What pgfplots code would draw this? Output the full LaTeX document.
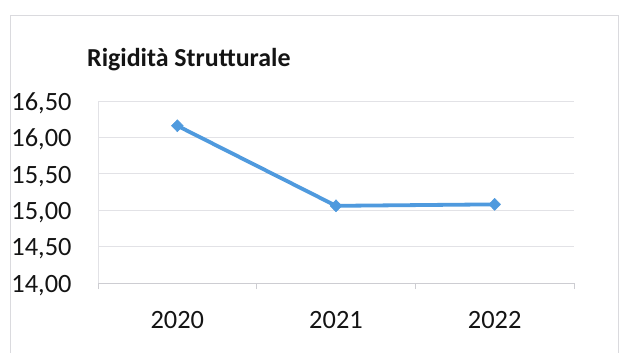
\documentclass[border=0pt]{standalone}
\usepackage{fontspec}
\setmainfont{Carlito}
\usepackage{pgfplots}
\pgfplotsset{compat=1.18}
\definecolor{serie}{RGB}{79,154,222}
\definecolor{griglia}{RGB}{226,226,230}
\definecolor{asse}{RGB}{205,205,210}
\definecolor{cornice}{RGB}{218,218,222}
\definecolor{testo}{RGB}{20,20,20}
\begin{document}
\begin{tikzpicture}
\useasboundingbox (0bp,0bp) rectangle (630bp,353bp);
\fill[white] (0bp,0bp) rectangle (630bp,353bp);
% chart frame
\draw[cornice, line width=1bp] (10bp,-5bp) -- (10bp,337bp) -- (618bp,337bp) -- (618bp,-5bp);
% chart title
\node[anchor=base west, inner sep=0pt, font=\fontsize{26}{30}\selectfont\bfseries, text=testo] at (87bp,286bp) {Rigidità Strutturale};
\begin{axis}[
  at={(98bp,70bp)}, anchor=south west,
  scale only axis, width=476bp, height=182bp,
  xmin=-0.5, xmax=2.5, ymin=14, ymax=16.5,
  xtick={0,1,2}, xticklabels={2020,2021,2022},
  minor xtick={-0.5,0.5,1.5,2.5},
  ytick={14,14.5,...,16.5},
  axis x line*=bottom, axis y line*=left,
  x axis line style={-, draw=asse, line width=1bp},
  y axis line style={-, draw=griglia, line width=0.8bp},
  tick align=outside,
  major x tick style={draw=none},
  minor x tick style={draw=asse, line width=1bp},
  minor tick length=6bp,
  ytick style={draw=none},
  ymajorgrids, grid style={griglia, line width=0.8bp},
  tick label style={font=\fontsize{26.5}{30}\selectfont, text=testo},
  /pgf/number format/assume math mode=true,
  /pgf/number format/fixed,
  /pgf/number format/fixed zerofill,
  /pgf/number format/precision=2,
  /pgf/number format/use comma,
  /pgf/number format/1000 sep={},
  yticklabel style={anchor=base east, inner sep=0pt, xshift=-22bp, yshift=-9.3bp},
  xticklabel style={anchor=base, inner sep=0pt, yshift=-41bp},
  clip=false,
]
\addplot[serie, line width=3.8bp, mark=diamond*, mark size=6bp,
  mark options={xscale=1.3, fill=serie, draw=serie, line width=0.5bp}]
  coordinates {(0,16.16) (1,15.06) (2,15.08)};
\end{axis}
\end{tikzpicture}
\end{document}
